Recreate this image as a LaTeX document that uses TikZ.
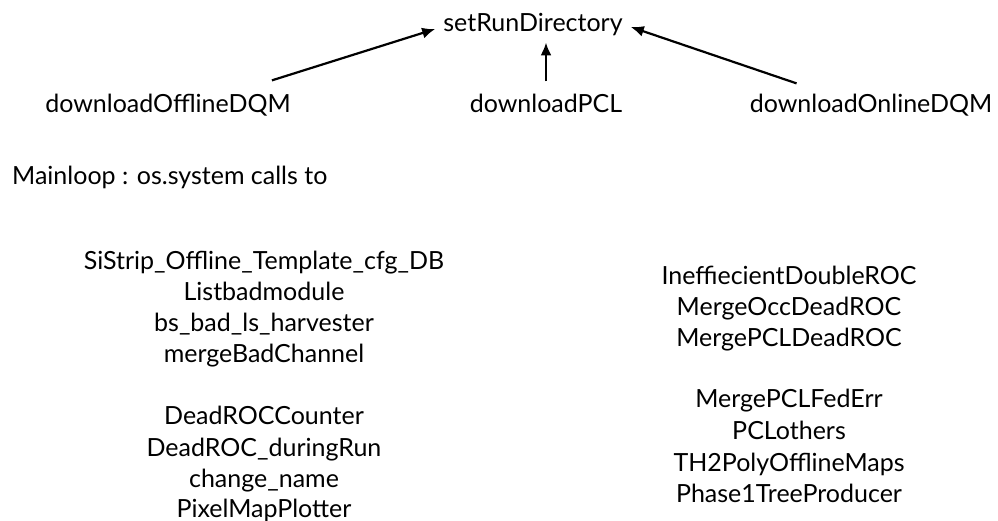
\documentclass[tikz,border=0pt]{standalone}
\usepackage{fontspec}
\setmainfont{Lato}
\usetikzlibrary{positioning,arrows.meta}
\begin{document}
\begin{tikzpicture}[x=1pt,y=1pt]
\tikzstyle{txt}=[inner sep = 0pt, anchor = base, font=\fontsize{25}{30}\selectfont]
\tikzstyle{arr}=[-{Latex[length=13pt,width=11pt]}, line width = 2.2pt]
\useasboundingbox (0,0) rectangle (998,521);

\node[txt] (setrun) at (533,489) {setRunDirectory};
\node[txt] (offline) at (168,408) {downloadOfflineDQM};
\node[txt] (pcl) at (546,408) {downloadPCL};
\node[txt] (online) at (871,408) {downloadOnlineDQM};
\node[txt, anchor = base west] (mainloop) at (12,336) {Mainloop : os.system calls to};

% strip / pixel scripts
\foreach \n/\t/\y in {s1/SiStrip\_Offline\_Template\_cfg\_DB/251, s2/Listbadmodule/220, s3/bs\_bad\_ls\_harvester/189, s4/mergeBadChannel/158, s5/DeadROCCounter/96, s6/DeadROC\_duringRun/64, s7/change\_name/33, s8/PixelMapPlotter/3}
  {\node[txt] (\n) at (264,\y) {\t};}
\foreach \n/\t/\y in {r1/IneffiecientDoubleROC/236, r2/MergeOccDeadROC/205, r3/MergePCLDeadROC/174, r4/MergePCLFedErr/113, r5/PCLothers/81, r6/TH2PolyOfflineMaps/49, r7/Phase1TreeProducer/18}
  {\node[txt] (\n) at (789,\y) {\t};}

\draw[arr] ([shift={(-19,14)}]offline.north east) -- ([shift={(-8,-4)}]setrun.west);
\draw[arr] ([yshift=13pt]pcl.north) -- ([yshift=-6pt]pcl.north |- setrun.south);
\draw[arr] ([shift={(47,11)}]online.north west) -- ([shift={(8,-2)}]setrun.east);
\end{tikzpicture}
\end{document}
